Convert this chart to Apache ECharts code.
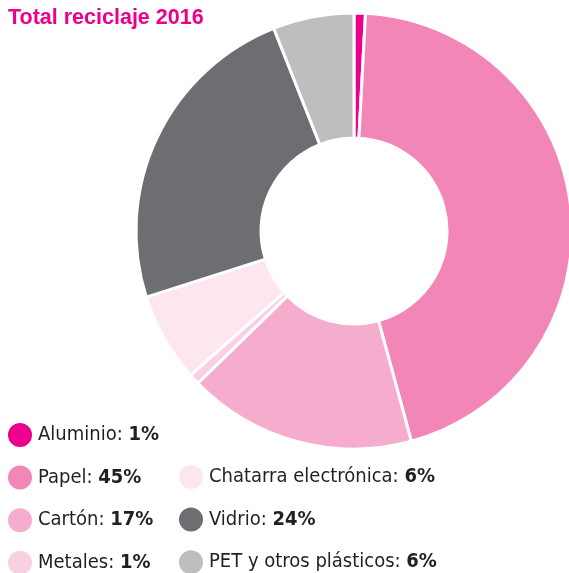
<!DOCTYPE html>
<html>
<head>
<meta charset="utf-8">
<script src="https://cdn.jsdelivr.net/npm/echarts@6/dist/echarts.min.js"></script>
<style>
  html, body { margin: 0; padding: 0; background: #fff; }
  #chart { width: 569px; height: 573px; }
</style>
</head>
<body>
<div id="chart"></div>
<script>
// slices clockwise from the top
const names = ['Aluminio', 'Papel', 'Cartón', 'Metales', 'Chatarra electrónica', 'Vidrio', 'PET y otros plásticos'];
const values = [0.84, 44.92, 16.94, 0.8, 6.6, 23.9, 6];
const pctLabels = ['1%', '45%', '17%', '1%', '6%', '24%', '6%'];
const colors = ['#EC008C', '#F287B7', '#F5ACCD', '#F9D0E2', '#FDE6F0', '#6D6E71', '#BCBEC0'];

const legendLeft = names.slice(0, 4);
const legendRight = names.slice(4);

const font = '"Liberation Sans Narrow", "DejaVu Sans Condensed", sans-serif';

function legendText(name) {
  const i = names.indexOf(name);
  return '{n|' + name + ': }{v|' + pctLabels[i] + '}';
}

const legendStyle = {
  orient: 'vertical',
  icon: 'circle',
  itemWidth: 26,
  itemHeight: 26,
  itemGap: 14.6,
  itemTextGap: 10,
  padding: 0,
  height: 200,
  selectedMode: false,
  formatter: legendText,
  textStyle: {
    rich: {
      n: { fontFamily: font, fontSize: 20, color: '#231F20', lineHeight: 26 },
      v: { fontFamily: font, fontSize: 20, fontWeight: 'bold', color: '#231F20', lineHeight: 26 }
    }
  }
};

const chart = echarts.init(document.getElementById('chart'));
chart.setOption({
  animation: false,
  color: colors,
  title: {
    text: 'Total reciclaje 2016',
    left: 8,
    top: 7,
    padding: 0,
    textStyle: {
      fontFamily: '"Liberation Sans", Arial, sans-serif',
      fontSize: 21.5,
      fontWeight: 'bold',
      color: '#EC008C'
    }
  },
  legend: [
    Object.assign({}, legendStyle, { data: legendLeft, left: 6, top: 421 }),
    Object.assign({}, legendStyle, { data: legendRight, left: 177, top: 463 })
  ],
  series: [{
    type: 'pie',
    center: [354, 231],
    radius: [93, 218],
    startAngle: 90,
    clockwise: true,
    label: { show: false },
    labelLine: { show: false },
    emphasis: { disabled: true },
    itemStyle: { borderColor: '#fff', borderWidth: 3 },
    data: names.map((n, i) => ({ name: n, value: values[i] }))
  }]
});
</script>
</body>
</html>
